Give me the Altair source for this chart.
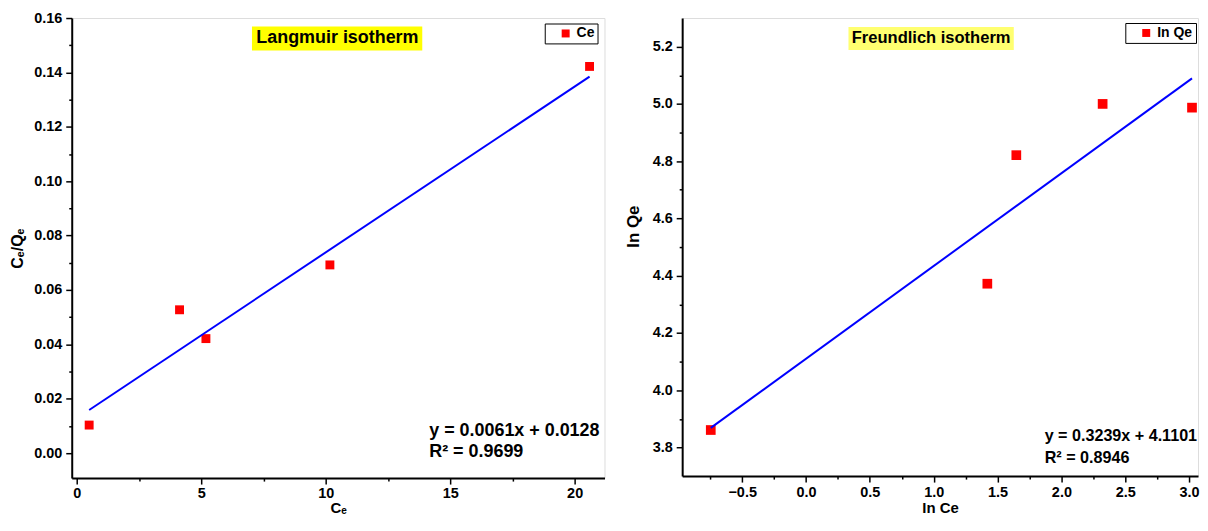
import altair as alt
import pandas as pd

FONT = "Liberation Sans, Arial, DejaVu Sans"

# ---------------- Langmuir isotherm ----------------
lang_x = [0.5, 4.13, 5.19, 10.17, 20.6]
lang_y = [0.0103, 0.0527, 0.0421, 0.0692, 0.1422]
lang_name = "Ce"
lang_fit = [0.0061, 0.0128]          # slope, intercept (from the printed equation)
lang_eq = ["y = 0.0061x + 0.0128", "R² = 0.9699"]
lang_title = "Langmuir isotherm"
lang_xticks = [0, 2.5, 5, 7.5, 10, 12.5, 15, 17.5, 20]
lang_yticks = [0.00, 0.01, 0.02, 0.03, 0.04, 0.05, 0.06, 0.07, 0.08,
               0.09, 0.10, 0.11, 0.12, 0.13, 0.14, 0.15, 0.16]
lang_xtitle = "Cₑ"
lang_ytitle = "Cₑ/Qₑ"

# ---------------- Freundlich isotherm ----------------
fr_x = [-0.746, 1.42, 1.647, 2.323, 3.023]
fr_y = [3.861, 4.372, 4.821, 5.000, 4.987]
fr_name = "In Qe"
fr_fit = [0.3239, 4.1101]
fr_eq = ["y = 0.3239x + 4.1101", "R² = 0.8946"]
fr_title = "Freundlich isotherm"
fr_xticks = [-0.75, -0.5, -0.25, 0.0, 0.25, 0.5, 0.75, 1.0, 1.25, 1.5,
             1.75, 2.0, 2.25, 2.5, 2.75, 3.0]
fr_yticks = [3.8, 3.9, 4.0, 4.1, 4.2, 4.3, 4.4, 4.5, 4.6, 4.7, 4.8,
             4.9, 5.0, 5.1, 5.2]
fr_xtitle = "In Ce"
fr_ytitle = "In Qe"


def make_axis(values, minor_test, fmt, title, label_pad, title_pad, title_fs, extra=None):
    kw = dict(
        values=values,
        format=fmt,
        labelColor={"condition": {"test": minor_test, "value": "transparent"}, "value": "black"},
        tickSize={"condition": {"test": minor_test, "value": 3}, "value": 6},
        grid=False,
        domainColor="black", domainWidth=2,
        tickColor="black", tickWidth=1.5,
        labelFont=FONT, labelFontSize=14.5, labelFontWeight="bold",
        labelPadding=label_pad, labelFlush=False, labelOverlap=False,
        title=title, titleFont=FONT, titleFontSize=title_fs, titleFontWeight="bold",
        titleColor="black", titlePadding=title_pad,
    )
    if extra:
        kw.update(extra)
    return alt.Axis(**kw)


def panel(xv, yv, name, fit, eq, title, xdom, ydom, xaxis, yaxis, w, h,
          sq, hl_color, hl_box, title_xy, title_fs, eq_xy, eq_fs, eq_lh, legend_xy):
    xs = alt.Scale(domain=xdom, nice=False, zero=False)
    ys = alt.Scale(domain=ydom, nice=False, zero=False)
    df = pd.DataFrame({"x": xv, "y": yv, "s": [name] * len(xv)})
    points = alt.Chart(df).mark_square(size=sq, opacity=1, strokeWidth=0).encode(
        x=alt.X("x:Q", scale=xs, axis=xaxis),
        y=alt.Y("y:Q", scale=ys, axis=yaxis),
        color=alt.Color("s:N", scale=alt.Scale(range=["#ff0000"]),
                        legend=alt.Legend(
                            title=None, orient="none",
                            legendX=legend_xy[0], legendY=legend_xy[1],
                            symbolType="square", symbolSize=64, symbolStrokeWidth=0,
                            labelFont=FONT, labelFontSize=14, labelFontWeight="bold",
                            labelColor="black", strokeColor="black", fillColor="white",
                            padding=3, symbolOffset=11, labelOffset=4)),
    )
    x0, x1 = min(xv), max(xv)
    ldf = pd.DataFrame({"x": [x0, x1], "y": [fit[0] * x0 + fit[1], fit[0] * x1 + fit[1]]})
    line = alt.Chart(ldf).mark_line(color="#0000ff", strokeWidth=2).encode(
        x=alt.X("x:Q", scale=xs, axis=xaxis), y=alt.Y("y:Q", scale=ys, axis=yaxis))
    tdf = pd.DataFrame({"t": [title]})
    hl = alt.Chart(tdf).mark_rect(color=hl_color).encode(
        x=alt.value(hl_box[0]), x2=alt.value(hl_box[1]),
        y=alt.value(hl_box[2]), y2=alt.value(hl_box[3]))
    ttl = alt.Chart(tdf).mark_text(font=FONT, fontSize=title_fs, fontWeight="bold",
                                   color="black", align="center", baseline="middle").encode(
        x=alt.value(title_xy[0]), y=alt.value(title_xy[1]), text="t:N")
    edf = pd.DataFrame({"t": ["\n".join(eq)]})
    eqt = alt.Chart(edf).mark_text(font=FONT, fontSize=eq_fs, fontWeight="bold",
                                   color="black", align="left", baseline="middle",
                                   lineBreak="\n", lineHeight=eq_lh).encode(
        x=alt.value(eq_xy[0]), y=alt.value(eq_xy[1]), text="t:N")
    return alt.layer(hl, ttl, points, line, eqt).properties(width=w, height=h)


left = panel(
    lang_x, lang_y, lang_name, lang_fit, lang_eq, lang_title,
    [-0.2, 21.2], [-0.0092, 0.16],
    make_axis(lang_xticks, "datum.value % 5 != 0", "d", lang_xtitle, 2, 1, 15),
    make_axis(lang_yticks, "round(datum.value*100) % 2 != 0", ".2f", lang_ytitle, 4, 8.5, 16),
    535, 462, 80, "#ffff00", [181, 352, 8.5, 32.5], [266.8, 20.5], 18,
    [359, 414.5], 18, 21.5, [475, 5.5])

right = panel(
    fr_x, fr_y, fr_name, fr_fit, fr_eq, fr_title,
    [-0.97, 3.07], [3.7, 5.3],
    make_axis(fr_xticks, "round(datum.value*4) % 2 != 0", ".1f", fr_xtitle, 3, 2, 15),
    make_axis(fr_yticks, "round(datum.value*10) % 2 != 0", ".1f", fr_ytitle, 4, 10, 17,
              extra={"titleY": 209}),
    518, 460, 95, "#ffff70", [167, 333, 9, 32], [250, 20.5], 16.6,
    [364, 420], 16.2, 21.5, [445, 5])

chart = alt.hconcat(left, right, spacing=78, bounds="flush").resolve_scale(
    color="independent").properties(
    padding={"left": 0, "top": 0, "right": 0, "bottom": 0}
).configure_view(stroke="black", strokeWidth=1.5).configure(background="white")

chart.save("out.html", embed_options={"renderer": "svg", "actions": False})
